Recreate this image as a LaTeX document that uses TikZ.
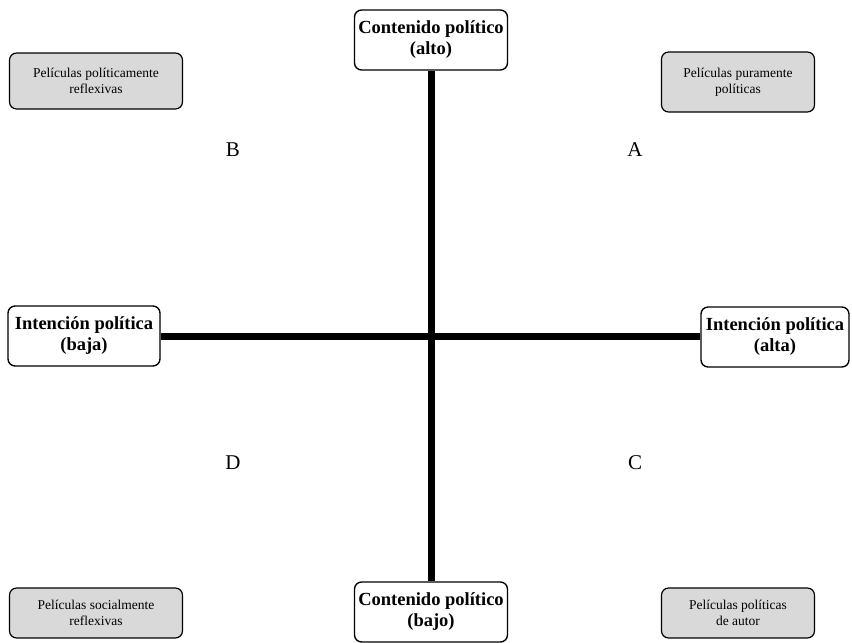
\documentclass[tikz,border=0pt]{standalone}
\usepackage{fontspec}
\setmainfont{Liberation Serif}
\usetikzlibrary{positioning}

\begin{document}
\begin{tikzpicture}[
    x=1pt, y=-1pt,
    axisbox/.style={rectangle, draw=black, fill=white, line width=1.4pt, rounded corners=2.5mm, minimum width=153pt, minimum height=60pt, inner sep=1pt, align=center, font=\fontsize{18.5}{21}\selectfont\bfseries},
    filmbox/.style={rectangle, draw=black, fill=black!15, line width=1.2pt, rounded corners=2.5mm, minimum width=173pt, minimum height=56pt, align=center, font=\fontsize{13.5}{16}\selectfont},
    quad/.style={font=\fontsize{21}{23}\selectfont},
    axis/.style={line width=7pt, draw=black}
]
\useasboundingbox (0,0) rectangle (852,643);

\node[axisbox] (high) at (431,40) {Contenido político\\(alto)};
\node[axisbox] (low) at (431,612) {Contenido político\\(bajo)};
\node[axisbox, minimum width=152pt] (weak) at (84,336) {Intención política\\(baja)};
\node[axisbox, minimum width=148pt] (strong) at (775,337) {Intención política\\(alta)};

\node[filmbox] (reflex) at (96,81) {Películas políticamente\\reflexivas};
\node[filmbox, minimum width=153pt, minimum height=60pt] (pure) at (738,82) {Películas puramente\\políticas};
\node[filmbox, minimum height=50pt] (social) at (96,613) {Películas socialmente\\reflexivas};
\node[filmbox, minimum width=153pt, minimum height=50pt] (auteur) at (738,613) {Películas políticas\\de autor};

\node[quad] (qb) at (233,150) {B};
\node[quad] (qa) at (635,150) {A};
\node[quad] (qd) at (233,463) {D};
\node[quad] (qc) at (635,463) {C};

\draw[axis] (high.south) -- (low.north);
\draw[axis] (weak.east) -- (weak.east -| strong.west);

\end{tikzpicture}
\end{document}
